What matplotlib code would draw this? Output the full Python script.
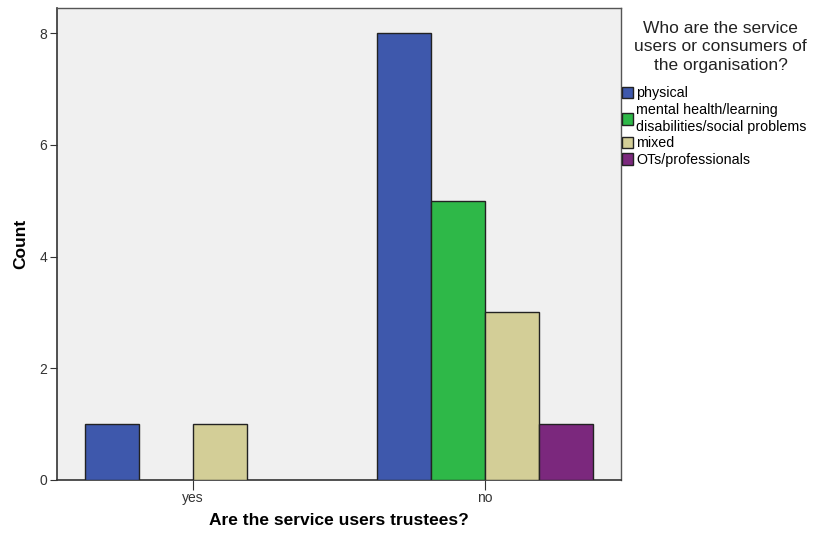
import matplotlib
matplotlib.use("Agg")
import matplotlib.pyplot as plt
from matplotlib.patches import Patch
import numpy as np

plt.rcParams['font.family'] = ['Liberation Sans', 'DejaVu Sans']

groups = ["yes", "no"]
series = ["physical", "mental health/learning\ndisabilities/social problems", "mixed", "OTs/professionals"]
counts = [
    [1, 8],  # physical
    [0, 5],  # mental health
    [1, 3],  # mixed
    [0, 1],  # OTs
]
colors = ["#3e58ac", "#2eb848", "#d3ce97", "#7b287d"]

fig = plt.figure(figsize=(8.15, 5.42), dpi=100)
ax = fig.add_axes([0.070, 0.1144, 0.692, 0.8706])
ax.set_facecolor("#f0f0f0")

x = np.arange(len(groups))
w = 0.185
for i, (name, vals) in enumerate(zip(series, counts)):
    off = (i - 1.5) * w
    for xi, v in zip(x, vals):
        if v > 0:
            ax.bar(xi + off, v, w, color=colors[i], edgecolor="#222222", linewidth=1.0, zorder=3)

ax.set_xlim(-0.466, 1.466)
ax.set_ylim(0, 8.45)
ax.set_yticks([0, 2, 4, 6, 8])
ax.set_xticks(x)
ax.set_xticklabels(groups)
ax.tick_params(axis="both", labelsize=10, colors="#333333", length=5, direction="out", pad=2)
ax.tick_params(axis="x", length=7, pad=1)
for s in ["left", "bottom"]:
    ax.spines[s].set_color("#333333")
    ax.spines[s].set_linewidth(1.2)
for s in ["top", "right"]:
    ax.spines[s].set_color("#555555")
    ax.spines[s].set_linewidth(1.0)

ax.set_ylabel("Count", fontsize=12.5, fontweight="bold", labelpad=8)
ax.set_xlabel("Are the service users trustees?", fontsize=12.5, fontweight="bold", labelpad=6)

fig.text(0.884, 0.962, "Who are the service\nusers or consumers of\nthe organisation?",
         ha="center", va="top", fontsize=12.5, color="#222222", linespacing=1.3)

handles = [Patch(facecolor=c, edgecolor="#222222", label=s) for c, s in zip(colors, series)]
leg = fig.legend(handles=handles, loc="upper left", bbox_to_anchor=(0.756, 0.851),
                 frameon=False, fontsize=10.3, handlelength=0.8, handleheight=0.9,
                 handletextpad=0.2, labelspacing=0.2, borderaxespad=0)

fig.savefig("out.png", dpi=100)
